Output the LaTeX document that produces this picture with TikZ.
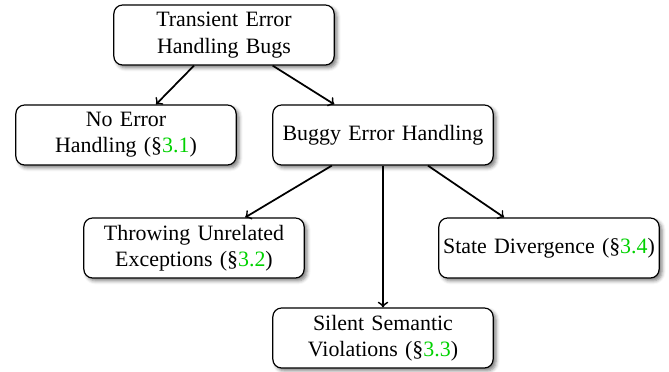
\documentclass[tikz,border=0pt]{standalone}
\usepackage{fontspec}
\setmainfont{Liberation Serif}
\usetikzlibrary{shadows.blur}
\definecolor{secgreen}{RGB}{0,210,0}
\newcommand{\sref}[1]{(\S\textcolor{secgreen}{#1})}
\hyphenpenalty=10000
\begin{document}
\begin{tikzpicture}[x=0.4566pt,y=-0.4566pt,
  box/.style={draw=black, line width=0.55pt, fill=white, rounded corners=4pt,
    align=center, text width=99pt, inner sep=0.8pt, minimum height=27.4pt,
    font=\fontsize{10}{12}\selectfont,
    blur shadow={shadow xshift=1.3pt, shadow yshift=-1.3pt, shadow blur radius=1.6pt, shadow opacity=50}},
  link/.style={->, line width=0.8pt}]
\useasboundingbox (0,0) rectangle (669,371);
\node[box] (top) at (224,35) {Transient Error\\Handling Bugs};
\node[box] (noerr) at (126,135) {No Error\\Handling \sref{3.1}};
\node[box] (buggy) at (383,135) {Buggy Error Handling};
\node[box] (throw) at (194,248) {Throwing Unrelated\\Exceptions \sref{3.2}};
\node[box] (state) at (549,248) {State Divergence \sref{3.4}};
\node[box] (silent) at (383,338) {Silent Semantic\\Violations \sref{3.3}};
\draw[link] (top) -- (noerr);
\draw[link] (top) -- (buggy);
\draw[link] (buggy) -- (throw);
\draw[link] (buggy) -- (silent);
\draw[link] (buggy) -- (state);
\end{tikzpicture}
\end{document}
